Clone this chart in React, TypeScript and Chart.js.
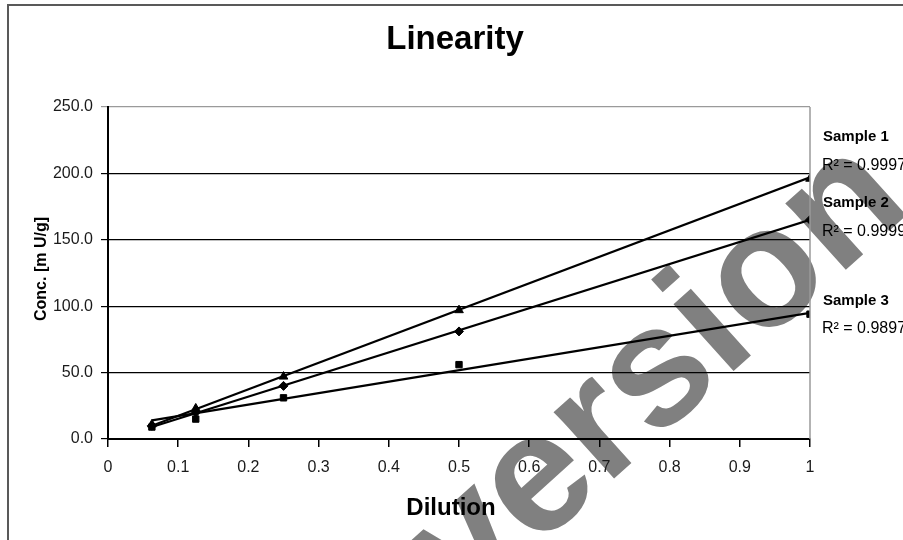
import React, { useEffect, useRef } from "react";
import { Chart, registerables } from "chart.js";

Chart.register(...registerables);

const chartTitle = "Linearity";
const xAxisTitle = "Dilution";
const yAxisTitle = "Conc. [m U/g]";
const watermarkText = "version";

const dilutions = [0.0625, 0.125, 0.25, 0.5, 1];
const sample1 = [11, 23, 47, 97, 196];
const sample2 = [10, 20, 40, 81, 165];
const sample3 = [9, 15, 31, 56, 94];

const trendX = [0.0625, 1];
const trend1 = [10, 197];
const trend2 = [9, 165];
const trend3 = [14, 95];

const seriesNames = ["Sample 1", "Sample 2", "Sample 3"];
const rSquared = ["0.9997", "0.9999", "0.9897"];

const yMin = 0;
const yMax = 250;
const yStep = 50;
const xMin = 0;
const xMax = 1;
const xStep = 0.1;

const FONT = "'Liberation Sans', Arial, sans-serif";

const pts = (xs: number[], ys: number[]) => xs.map((x, i) => ({ x, y: ys[i] }));

export default function App() {
  const ref = useRef<HTMLCanvasElement | null>(null);

  useEffect(() => {
    if (!ref.current) return;

    const decor = {
      id: "decor",
      beforeDraw(chart: any) {
        const ctx = chart.ctx;
        ctx.save();
        ctx.fillStyle = "#ffffff";
        ctx.fillRect(0, 0, chart.width, chart.height);
        // watermark (under everything)
        ctx.translate(660, 378);
        ctx.rotate((-42 * Math.PI) / 180);
        ctx.fillStyle = "#808080";
        ctx.font = `bold 170px ${FONT}`;
        ctx.textAlign = "center";
        ctx.textBaseline = "alphabetic";
        ctx.fillText(watermarkText, 0, 44);
        ctx.restore();
      },
      afterDatasetsDraw(chart: any) {
        const ctx = chart.ctx;
        const a = chart.chartArea;
        ctx.save();
        ctx.strokeStyle = "#9a9a9a";
        ctx.lineWidth = 1.5;
        ctx.beginPath();
        ctx.moveTo(a.right, a.top);
        ctx.lineTo(a.right, a.bottom);
        ctx.stroke();
        ctx.restore();
      },
      afterDraw(chart: any) {
        const ctx = chart.ctx;
        const a = chart.chartArea;
        ctx.save();
        ctx.strokeStyle = "#595959";
        ctx.lineWidth = 2;
        ctx.strokeRect(8, 5, 1000, 1000);

        ctx.fillStyle = "#000";
        ctx.textAlign = "center";
        ctx.textBaseline = "alphabetic";
        ctx.font = `bold 33px ${FONT}`;
        ctx.fillText(chartTitle, 455, 49);

        ctx.font = `bold 24px ${FONT}`;
        ctx.fillText(xAxisTitle, (a.left + a.right) / 2 - 8, 515);

        ctx.save();
        ctx.translate(46, (a.top + a.bottom) / 2 - 4);
        ctx.rotate(-Math.PI / 2);
        ctx.font = `bold 16px ${FONT}`;
        ctx.fillText(yAxisTitle, 0, 0);
        ctx.restore();

        const nameBase = [141, 207, 305];
        const rBase = [170, 236, 333];
        ctx.textAlign = "left";
        for (let i = 0; i < seriesNames.length; i++) {
          ctx.font = `bold 15px ${FONT}`;
          ctx.fillText(seriesNames[i], 823, nameBase[i]);
          ctx.font = `16px ${FONT}`;
          ctx.fillText(`R² = ${rSquared[i]}`, 822, rBase[i]);
        }
        ctx.restore();
      },
    };

    const chart = new Chart(ref.current, {
      type: "scatter",
      data: {
        datasets: [
          {
            label: seriesNames[0] + " trend",
            data: pts(trendX, trend1),
            showLine: true,
            borderColor: "#000",
            borderWidth: 2.2,
            pointRadius: 0,
          },
          {
            label: seriesNames[1] + " trend",
            data: pts(trendX, trend2),
            showLine: true,
            borderColor: "#000",
            borderWidth: 2.2,
            pointRadius: 0,
          },
          {
            label: seriesNames[2] + " trend",
            data: pts(trendX, trend3),
            showLine: true,
            borderColor: "#000",
            borderWidth: 2.2,
            pointRadius: 0,
          },
          {
            label: seriesNames[0],
            data: pts(dilutions, sample1),
            showLine: false,
            pointStyle: "triangle",
            pointRadius: 5,
            backgroundColor: "#000",
            borderColor: "#000",
          },
          {
            label: seriesNames[1],
            data: pts(dilutions, sample2),
            showLine: false,
            pointStyle: "rectRot",
            pointRadius: 4.5,
            backgroundColor: "#000",
            borderColor: "#000",
          },
          {
            label: seriesNames[2],
            data: pts(dilutions, sample3),
            showLine: false,
            pointStyle: "rect",
            pointRadius: 4.5,
            backgroundColor: "#000",
            borderColor: "#000",
          },
        ],
      },
      options: {
        responsive: false,
        animation: false,
        layout: { padding: { top: 107, right: 93, bottom: 0, left: 0 } },
        plugins: {
          legend: { display: false },
          title: { display: false },
          tooltip: { enabled: false },
        },
        scales: {
          x: {
            type: "linear",
            min: xMin,
            max: xMax,
            afterFit(scale: any) {
              scale.height = 101;
            },
            ticks: {
              stepSize: xStep,
              color: "#1a1a1a",
              font: { family: FONT, size: 16 },
              padding: 11,
              maxRotation: 0,
              callback: (v: any) => String(Number(Number(v).toFixed(1))),
            },
            grid: {
              drawOnChartArea: false,
              drawTicks: true,
              tickLength: 8,
              color: "#000",
              lineWidth: 1.5,
            },
            border: { color: "#000", width: 2 },
          },
          y: {
            type: "linear",
            min: yMin,
            max: yMax,
            afterFit(scale: any) {
              scale.width = 108;
            },
            ticks: {
              stepSize: yStep,
              color: "#1a1a1a",
              font: { family: FONT, size: 16 },
              padding: 8,
              callback: (v: any) => Number(v).toFixed(1),
            },
            grid: {
              drawTicks: true,
              tickLength: 7,
              color: (c: any) => (c.tick && c.tick.value === yMax ? "#9a9a9a" : "#000"),
              lineWidth: 1.2,
            },
            border: { color: "#000", width: 2 },
          },
        },
      },
      plugins: [decor],
    } as any);

    return () => chart.destroy();
  }, []);

  return (
    <div style={{ position: "absolute", left: 0, top: 0, width: 903, height: 540 }}>
      <canvas ref={ref} width={903} height={540} style={{ width: 903, height: 540, display: "block" }} />
    </div>
  );
}
